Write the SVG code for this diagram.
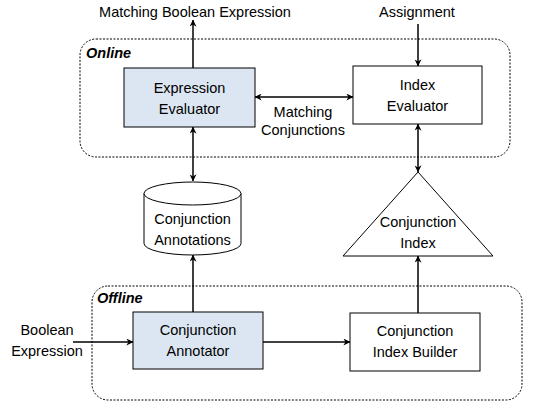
<svg xmlns="http://www.w3.org/2000/svg" width="549" height="405" viewBox="0 0 549 405">
<style>
text{font-family:"Liberation Sans",Arial,sans-serif;font-size:14.5px;fill:#000;text-anchor:middle}
.lbl{font-weight:bold;font-style:italic;text-anchor:start}
.box{stroke:#000;stroke-width:1;fill:#fff}
.blue{fill:#dce6f2}
.zone{fill:none;stroke:#000;stroke-width:1;stroke-dasharray:2,1.5}
.c{stroke:#000;stroke-width:1.5;fill:none}
</style>
<defs>
<marker id="a" viewBox="0 0 10 10" refX="9.5" refY="5" markerWidth="7" markerHeight="7" orient="auto-start-reverse" markerUnits="userSpaceOnUse">
<path d="M0,0 L10,5 L0,10 L3,5 Z" fill="#000"/>
</marker>
</defs>
<g id="online">
<rect class="zone" x="80" y="39" width="430" height="118" rx="16"/>
<text class="lbl" x="86" y="58">Online</text>
</g>
<g id="offline">
<rect class="zone" x="92" y="286" width="430" height="114" rx="16"/>
<text class="lbl" x="97" y="303">Offline</text>
</g>
<g id="expression-evaluator">
<rect class="box blue" x="124" y="68" width="131" height="59"/>
<text x="189.5" y="93">Expression</text>
<text x="189.5" y="114">Evaluator</text>
</g>
<g id="index-evaluator">
<rect class="box" x="353" y="66" width="129" height="58"/>
<text x="417.5" y="90">Index</text>
<text x="417.5" y="111">Evaluator</text>
</g>
<g id="conjunction-annotations">
<path class="box" d="M144,193.5 A48.5,11.5 0 0 1 241,193.5 L241,243.5 A48.5,11.5 0 0 1 144,243.5 Z"/>
<path class="box" fill="none" d="M144,193.5 A48.5,11.5 0 0 0 241,193.5"/>
<text x="192.5" y="224">Conjunction</text>
<text x="192.5" y="245">Annotations</text>
</g>
<g id="conjunction-index">
<polygon class="box" points="418,172 493,256 343,256"/>
<text x="418" y="227">Conjunction</text>
<text x="418" y="248">Index</text>
</g>
<g id="conjunction-annotator">
<rect class="box blue" x="133" y="312" width="130" height="57"/>
<text x="198" y="335">Conjunction</text>
<text x="198" y="356">Annotator</text>
</g>
<g id="conjunction-index-builder">
<rect class="box" x="350" y="313" width="130" height="58"/>
<text x="415" y="336">Conjunction</text>
<text x="415" y="357">Index Builder</text>
</g>
<g id="texts">
<text x="195" y="17">Matching Boolean Expression</text>
<text x="417" y="17">Assignment</text>
<text x="303" y="117">Matching</text>
<text x="303" y="135">Conjunctions</text>
<text x="47" y="335">Boolean</text>
<text x="47" y="356">Expression</text>
</g>
<g id="connectors">
<line class="c" x1="193" y1="68" x2="193" y2="20" marker-end="url(#a)"/>
<line class="c" x1="418" y1="24" x2="418" y2="66" marker-end="url(#a)"/>
<line class="c" x1="255" y1="97" x2="353" y2="97" marker-start="url(#a)" marker-end="url(#a)"/>
<line class="c" x1="193" y1="127" x2="193" y2="181" marker-start="url(#a)" marker-end="url(#a)"/>
<line class="c" x1="418" y1="124" x2="418" y2="172" marker-start="url(#a)" marker-end="url(#a)"/>
<line class="c" x1="193" y1="312" x2="193" y2="255" marker-end="url(#a)"/>
<line class="c" x1="418" y1="313" x2="418" y2="256" marker-end="url(#a)"/>
<line class="c" x1="263" y1="342" x2="350" y2="342" marker-end="url(#a)"/>
<line class="c" x1="73" y1="342" x2="133" y2="342" marker-end="url(#a)"/>
</g>
</svg>
